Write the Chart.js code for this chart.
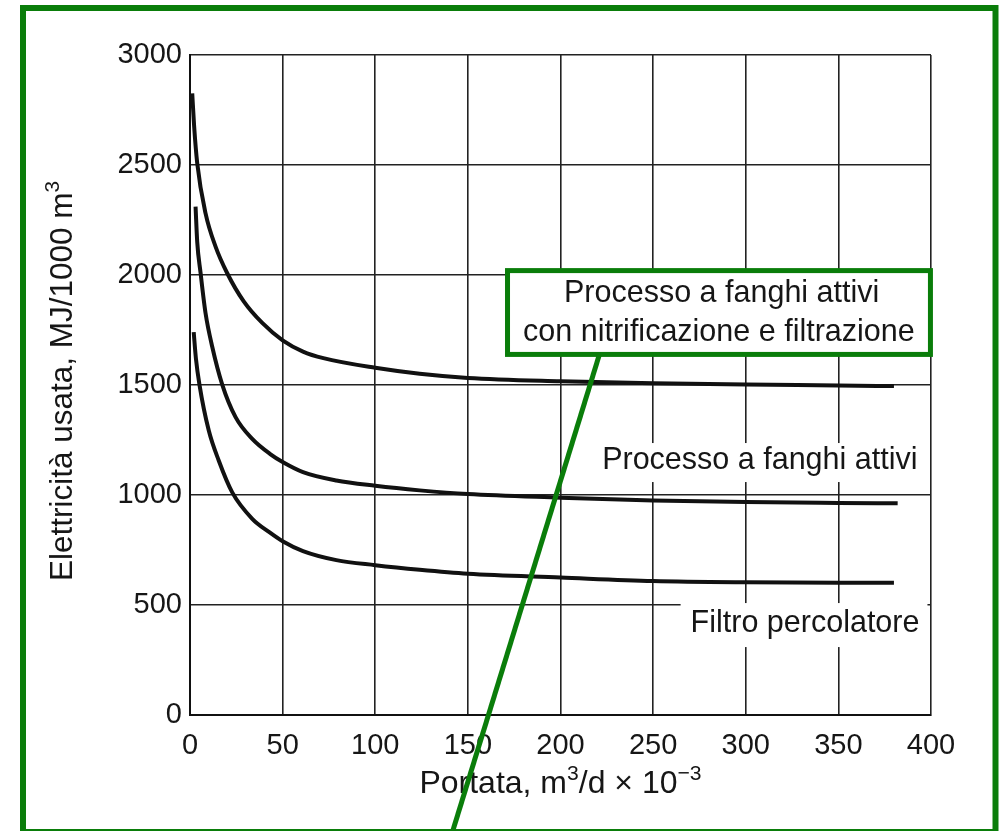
<!DOCTYPE html>
<html>
<head>
<meta charset="utf-8">
<script src="https://cdn.jsdelivr.net/npm/chart.js@4.4.1/dist/chart.umd.min.js"></script>
<style>
  html, body { margin: 0; padding: 0; background: #fff; }
  #wrap { width: 1004px; height: 831px; position: relative; }
</style>
</head>
<body>
<div id="wrap"><canvas id="chart"></canvas></div>
<script>
// values (portata in m3/d x 10^-3, energia in MJ/1000 m3)
const portataNitri = [1.2, 2.2, 3.9, 8.4, 13.8, 20.1, 29, 39, 50, 61, 72, 100, 124, 150, 200, 250, 300, 350, 380];
const energiaNitri = [2826, 2680, 2508, 2280, 2129, 2008, 1880, 1782, 1703, 1652, 1622, 1578, 1551, 1532, 1517, 1508, 1502, 1498, 1495];

const portataFanghi = [3.0, 3.9, 5.7, 8.4, 12, 17.4, 24.6, 33.6, 43.5, 50, 61, 79, 100, 124, 150, 200, 250, 300, 350, 382];
const energiaFanghi = [2311, 2150, 2010, 1826, 1674, 1502, 1354, 1255, 1185, 1150, 1104, 1066, 1042, 1021, 1004, 988, 975, 968, 964, 962];

const portataFiltro = [2.0, 3.2, 5.1, 10.1, 15.5, 22.8, 33.6, 43, 50, 61, 79, 100, 124, 150, 200, 250, 300, 350, 380];
const energiaFiltro = [1740, 1620, 1502, 1294, 1157, 1012, 892, 830, 790, 745, 704, 681, 660, 642, 625, 609, 603, 601, 601];

const xTicks = [0, 50, 100, 150, 200, 250, 300, 350, 400];
const yTicks = [0, 500, 1000, 1500, 2000, 2500, 3000];

const FONT = 'Liberation Sans, Arial, Helvetica, sans-serif';
const INK = '#161616';
const GREEN = '#0a7d0a';

function pts(xs, ys) {
  return xs.map((x, i) => ({ x: x, y: ys[i] }));
}

// text pieces, second item true = superscript
function drawRich(ctx, parts, x, y, size) {
  const sup = size * 0.66;
  let total = 0;
  parts.forEach(p => {
    ctx.font = (p[1] ? sup : size) + 'px ' + FONT;
    total += ctx.measureText(p[0]).width;
  });
  let cx = x - total / 2;
  ctx.textAlign = 'left';
  ctx.textBaseline = 'alphabetic';
  parts.forEach(p => {
    ctx.font = (p[1] ? sup : size) + 'px ' + FONT;
    ctx.fillText(p[0], cx, p[1] ? y - size * 0.42 : y);
    cx += ctx.measureText(p[0]).width;
  });
}

// plain labels with a white patch behind them (data coords, baseline)
const labels = [
  { text: 'Processo a fanghi attivi', x: 307.6, y: 1118, pad: [24, 6, 13, 3] },
  { text: 'Filtro percolatore', x: 332, y: 377, pad: [27, 8, 15, 10] }
];

const nitriBox = { x0: 171.4, x1: 399.7, y0: 1639, y1: 2020 };
const nitriLines = [
  { text: 'Processo a fanghi attivi', x: 287, y: 1877 },
  { text: 'con nitrificazione e filtrazione', x: 285.5, y: 1700 }
];
const leader = { x0: 221, x1: 142, y1: -523 };

const decor = {
  id: 'decor',
  afterDraw(chart) {
    const ctx = chart.ctx;
    const sx = chart.scales.x, sy = chart.scales.y;
    const area = chart.chartArea;
    ctx.save();
    ctx.fillStyle = INK;

    // labels on white patches
    ctx.font = '30.5px ' + FONT;
    labels.forEach(l => {
      const px = sx.getPixelForValue(l.x), py = sy.getPixelForValue(l.y);
      const w = ctx.measureText(l.text).width;
      ctx.fillStyle = '#fff';
      ctx.fillRect(px - w / 2 - l.pad[3], py - 22 - l.pad[0] + 20, w + l.pad[1] + l.pad[3], 22 + l.pad[0] + l.pad[2] - 20);
      ctx.fillStyle = INK;
      ctx.textAlign = 'center';
      ctx.textBaseline = 'alphabetic';
      ctx.fillText(l.text, px, py);
    });

    // boxed label
    const bx0 = sx.getPixelForValue(nitriBox.x0), bx1 = sx.getPixelForValue(nitriBox.x1);
    const by0 = sy.getPixelForValue(nitriBox.y1), by1 = sy.getPixelForValue(nitriBox.y0);
    ctx.fillStyle = '#fff';
    ctx.fillRect(bx0, by0, bx1 - bx0, by1 - by0);
    ctx.strokeStyle = GREEN;
    ctx.lineWidth = 5;
    ctx.strokeRect(bx0, by0, bx1 - bx0, by1 - by0);
    ctx.fillStyle = INK;
    ctx.font = '30.5px ' + FONT;
    ctx.textAlign = 'center';
    nitriLines.forEach(l => {
      ctx.fillText(l.text, sx.getPixelForValue(l.x), sy.getPixelForValue(l.y));
    });

    // axis titles
    ctx.fillStyle = INK;
    drawRich(ctx, [['Portata, m', false], ['3', true], ['/d \u00d7 10', false], ['\u22123', true]],
      (area.left + area.right) / 2, 793, 32);
    ctx.save();
    ctx.translate(72, (area.top + area.bottom) / 2 - 4);
    ctx.rotate(-Math.PI / 2);
    drawRich(ctx, [['Elettricit\u00e0 usata, MJ/1000 m', false], ['3', true]], 0, 0, 31.5);
    ctx.restore();

    // leader line
    ctx.strokeStyle = GREEN;
    ctx.lineWidth = 5;
    ctx.beginPath();
    ctx.moveTo(sx.getPixelForValue(leader.x0), by1);
    ctx.lineTo(sx.getPixelForValue(leader.x1), sy.getPixelForValue(leader.y1));
    ctx.stroke();

    // outer frame
    ctx.lineWidth = 6;
    ctx.strokeRect(23, 8, 972.5, 824);
    ctx.restore();
  }
};

const line = {
  borderColor: '#111',
  borderWidth: 4,
  pointRadius: 0,
  fill: false,
  cubicInterpolationMode: 'monotone'
};

new Chart(document.getElementById('chart'), {
  type: 'line',
  data: {
    datasets: [
      Object.assign({ label: 'Processo a fanghi attivi con nitrificazione e filtrazione', data: pts(portataNitri, energiaNitri) }, line),
      Object.assign({ label: 'Processo a fanghi attivi', data: pts(portataFanghi, energiaFanghi) }, line),
      Object.assign({ label: 'Filtro percolatore', data: pts(portataFiltro, energiaFiltro) }, line)
    ]
  },
  options: {
    responsive: true,
    maintainAspectRatio: false,
    animation: false,
    events: [],
    layout: { padding: { left: 0, right: 73, top: 55, bottom: 0 } },
    plugins: { legend: { display: false }, tooltip: { enabled: false } },
    scales: {
      x: {
        type: 'linear',
        min: 0,
        max: 400,
        afterFit: s => { s.height = 116; },
        afterBuildTicks: s => { s.ticks = xTicks.map(v => ({ value: v })); },
        grid: { color: '#222', lineWidth: 1.6, drawTicks: false },
        border: { color: '#111', width: 2 },
        ticks: { color: INK, padding: 14, font: { family: FONT, size: 29 }, maxRotation: 0, callback: v => String(v) }
      },
      y: {
        min: 0,
        max: 3000,
        afterFit: s => { s.width = 190; },
        afterBuildTicks: s => { s.ticks = yTicks.map(v => ({ value: v })); },
        grid: { color: '#222', lineWidth: 1.6, drawTicks: false },
        border: { color: '#111', width: 2 },
        ticks: { color: INK, padding: 8, font: { family: FONT, size: 29 }, callback: v => String(v) }
      }
    }
  },
  plugins: [decor]
});
</script>
</body>
</html>
